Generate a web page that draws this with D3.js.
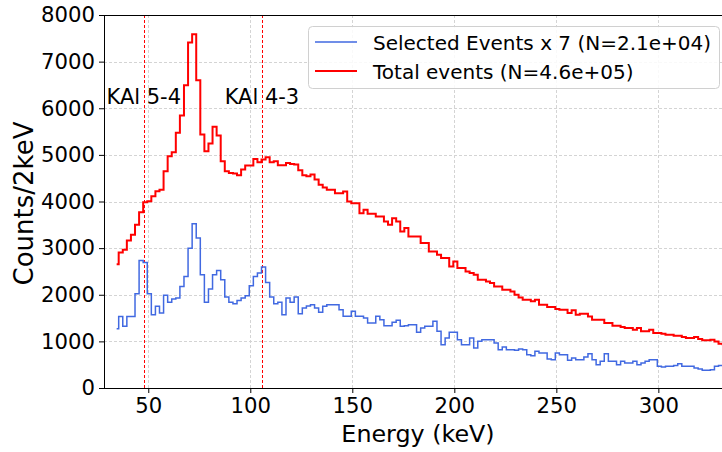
<!DOCTYPE html>
<html>
<head>
<meta charset="utf-8">
<script src="https://cdn.jsdelivr.net/npm/d3@7"></script>
<style>
  html, body { margin: 0; padding: 0; background: #fff; }
  svg { display: block; font-family: "DejaVu Sans", sans-serif; }
</style>
</head>
<body>
<svg id="chart" width="722" height="452"></svg>
<script>
// ---- data ----
const binStart = 34.5;   // keV, first bin centre
const binWidth = 2;      // keV
const totalCounts = [
  2656, 2907, 2964, 3165, 3287, 3502, 3767, 3982, 4004, 4111,
  4219, 4254, 4649, 4971, 5057, 5473, 5846, 6491, 7408, 7588,
  6598, 5437, 5079, 5244, 5602, 5416, 4864, 4649, 4613, 4599,
  4563, 4684, 4770, 4770, 4914, 4842, 4900, 4950, 4842, 4864,
  4778, 4778, 4828, 4806, 4792, 4670, 4563, 4541, 4577, 4470,
  4357, 4300, 4250, 4250, 4179, 4179, 4215, 4000, 3964, 3964,
  3750, 3821, 3736, 3736, 3679, 3679, 3572, 3500, 3643, 3572,
  3358, 3429, 3250, 3250, 3250, 3108, 3108, 2929, 2929, 2857,
  2786, 2786, 2608, 2715, 2572, 2572, 2501, 2465, 2429, 2322,
  2322, 2286, 2251, 2179, 2179, 2108, 2108, 2072, 2001, 1940,
  1893, 1893, 1858, 1893, 1786, 1786, 1736, 1736, 1693, 1679,
  1679, 1608, 1665, 1572, 1593, 1593, 1536, 1465, 1465, 1465,
  1393, 1393, 1336, 1336, 1308, 1286, 1286, 1251, 1286, 1215,
  1215, 1251, 1179, 1179, 1165, 1143, 1143, 1122, 1122, 1094,
  1072, 1072, 1094, 1051, 1022, 1022, 1036, 1000, 951, 940
];
const selectedCountsX7 = [
  1273, 1536, 1322, 1536, 1536, 2022, 2736, 2693, 2022, 1572,
  1751, 1608, 1987, 1837, 1908, 1929, 2179, 2393, 3000, 3522,
  3215, 2429, 1837, 2122, 2429, 2522, 2322, 1951, 1837, 1808,
  1879, 1929, 1979, 2194, 2393, 2465, 2593, 2265, 1951, 1808,
  1837, 1572, 1929, 1837, 1951, 1594, 1715, 1760, 1787, 1716,
  1623, 1751, 1787, 1787, 1787, 1680, 1537, 1537, 1644, 1537,
  1537, 1501, 1394, 1394, 1537, 1466, 1337, 1337, 1409, 1452,
  1323, 1337, 1359, 1359, 1194, 1287, 1323, 1323, 1430, 1216,
  930, 1073, 1194, 1194, 1037, 930, 930, 1073, 859, 1001,
  1037, 1037, 1037, 966, 823, 880, 823, 823, 809, 837,
  822, 715, 694, 787, 751, 751, 622, 608, 751, 715,
  715, 594, 644, 608, 608, 665, 737, 608, 501, 572,
  737, 572, 572, 501, 572, 537, 537, 572, 501, 537,
  572, 608, 608, 465, 451, 465, 465, 480, 522, 465,
  465, 465, 430, 408, 380, 380, 394, 465, 480, 480
];
const lineMarkers = [
  { label: "KAl 5-4", energy: 47.8 },
  { label: "KAl 4-3", energy: 105.7 }
];
const xTicks = [50, 100, 150, 200, 250, 300];
const yTicks = [0, 1000, 2000, 3000, 4000, 5000, 6000, 7000, 8000];
const seriesNames = ["Selected Events x 7 (N=2.1e+04)", "Total events (N=4.6e+05)"];
const xDomain = [28.3, 336.1];
const yDomain = [0, 8000];
const markerLabelY = 6100;

// ---- layout ----
const L = 104, R = 732, T = 15, B = 388;
const svg = d3.select("#chart");
const x = d3.scaleLinear().domain(xDomain).range([L, R]);
const y = d3.scaleLinear().domain(yDomain).range([B, T]);

svg.append("defs").append("clipPath").attr("id", "clip")
  .append("rect").attr("x", L).attr("y", T).attr("width", R - L).attr("height", B - T);

// grid
const grid = svg.append("g").attr("stroke", "#d4d4d4").attr("stroke-width", 1)
  .attr("stroke-dasharray", "3,2");
grid.selectAll(".gx").data(xTicks).join("line")
  .attr("x1", d => Math.round(x(d)) + 0.5).attr("x2", d => Math.round(x(d)) + 0.5)
  .attr("y1", T).attr("y2", B);
grid.selectAll(".gy").data(yTicks).join("line")
  .attr("x1", L).attr("x2", R)
  .attr("y1", d => Math.round(y(d)) + 0.5).attr("y2", d => Math.round(y(d)) + 0.5);

// vertical marker lines
svg.append("g").selectAll("line").data(lineMarkers).join("line")
  .attr("x1", d => Math.round(x(d.energy)) + 0.5).attr("x2", d => Math.round(x(d.energy)) + 0.5)
  .attr("y1", T).attr("y2", B)
  .attr("stroke", "red").attr("stroke-width", 1).attr("stroke-dasharray", "3,2");

// step histograms
const centres = totalCounts.map((_, i) => binStart + i * binWidth);
const stepLine = vals => d3.line()
  .x((d, i) => x(centres[i])).y(d => y(d))
  .curve(d3.curveStep)(vals);

const plot = svg.append("g").attr("clip-path", "url(#clip)");
plot.append("path").attr("d", stepLine(selectedCountsX7))
  .attr("fill", "none").attr("stroke", "royalblue").attr("stroke-width", 1.5);
plot.append("path").attr("d", stepLine(totalCounts))
  .attr("fill", "none").attr("stroke", "red").attr("stroke-width", 2);

// marker labels
svg.append("g").selectAll("text").data(lineMarkers).join("text")
  .attr("x", d => x(d.energy)).attr("y", y(markerLabelY))
  .attr("text-anchor", "middle").attr("font-size", 21).attr("fill", "#000")
  .text(d => d.label);

// axes
const xAxis = d3.axisBottom(x).tickValues(xTicks).tickSize(5).tickPadding(5).tickFormat(d3.format("d"));
const yAxis = d3.axisLeft(y).tickValues(yTicks).tickSize(5).tickPadding(4).tickFormat(d3.format("d"));
const gx = svg.append("g").attr("transform", `translate(0,${B})`).call(xAxis);
const gy = svg.append("g").attr("transform", `translate(${L},0)`).call(yAxis);
[gx, gy].forEach(g => {
  g.selectAll("text").attr("font-size", 21.2).attr("font-family", "DejaVu Sans").attr("fill", "#000");
  g.selectAll("line").attr("stroke", "#000");
  g.select(".domain").remove();
});
// spines
svg.append("line").attr("x1", L).attr("x2", R).attr("y1", B + 0.5).attr("y2", B + 0.5).attr("stroke", "#000");
svg.append("line").attr("x1", L).attr("x2", R).attr("y1", T + 0.5).attr("y2", T + 0.5).attr("stroke", "#000");
svg.append("line").attr("x1", L + 0.5).attr("x2", L + 0.5).attr("y1", T).attr("y2", B).attr("stroke", "#000");

// axis labels
svg.append("text").attr("x", 418).attr("y", 442).attr("text-anchor", "middle")
  .attr("font-size", 23.8).attr("fill", "#000").text("Energy (keV)");
svg.append("text").attr("transform", `translate(33,${(T + B) / 2 + 2}) rotate(-90)`)
  .attr("text-anchor", "middle").attr("font-size", 26).attr("fill", "#000").text("Counts/2keV");

// legend
const lg = svg.append("g");
lg.append("rect").attr("x", 308.5).attr("y", 26.5).attr("width", 411).attr("height", 62).attr("rx", 4)
  .attr("fill", "#fff").attr("fill-opacity", 0.85).attr("stroke", "#d0d0d0");
const legendItems = [
  { name: seriesNames[0], color: "royalblue", w: 1.5, ly: 42 },
  { name: seriesNames[1], color: "red", w: 2, ly: 71 }
];
legendItems.forEach(it => {
  lg.append("line").attr("x1", 315).attr("x2", 357).attr("y1", it.ly).attr("y2", it.ly)
    .attr("stroke", it.color).attr("stroke-width", it.w);
  lg.append("text").attr("x", 373).attr("y", it.ly + 7.5).attr("font-size", 20).attr("fill", "#000").text(it.name);
});
</script>
</body>
</html>
